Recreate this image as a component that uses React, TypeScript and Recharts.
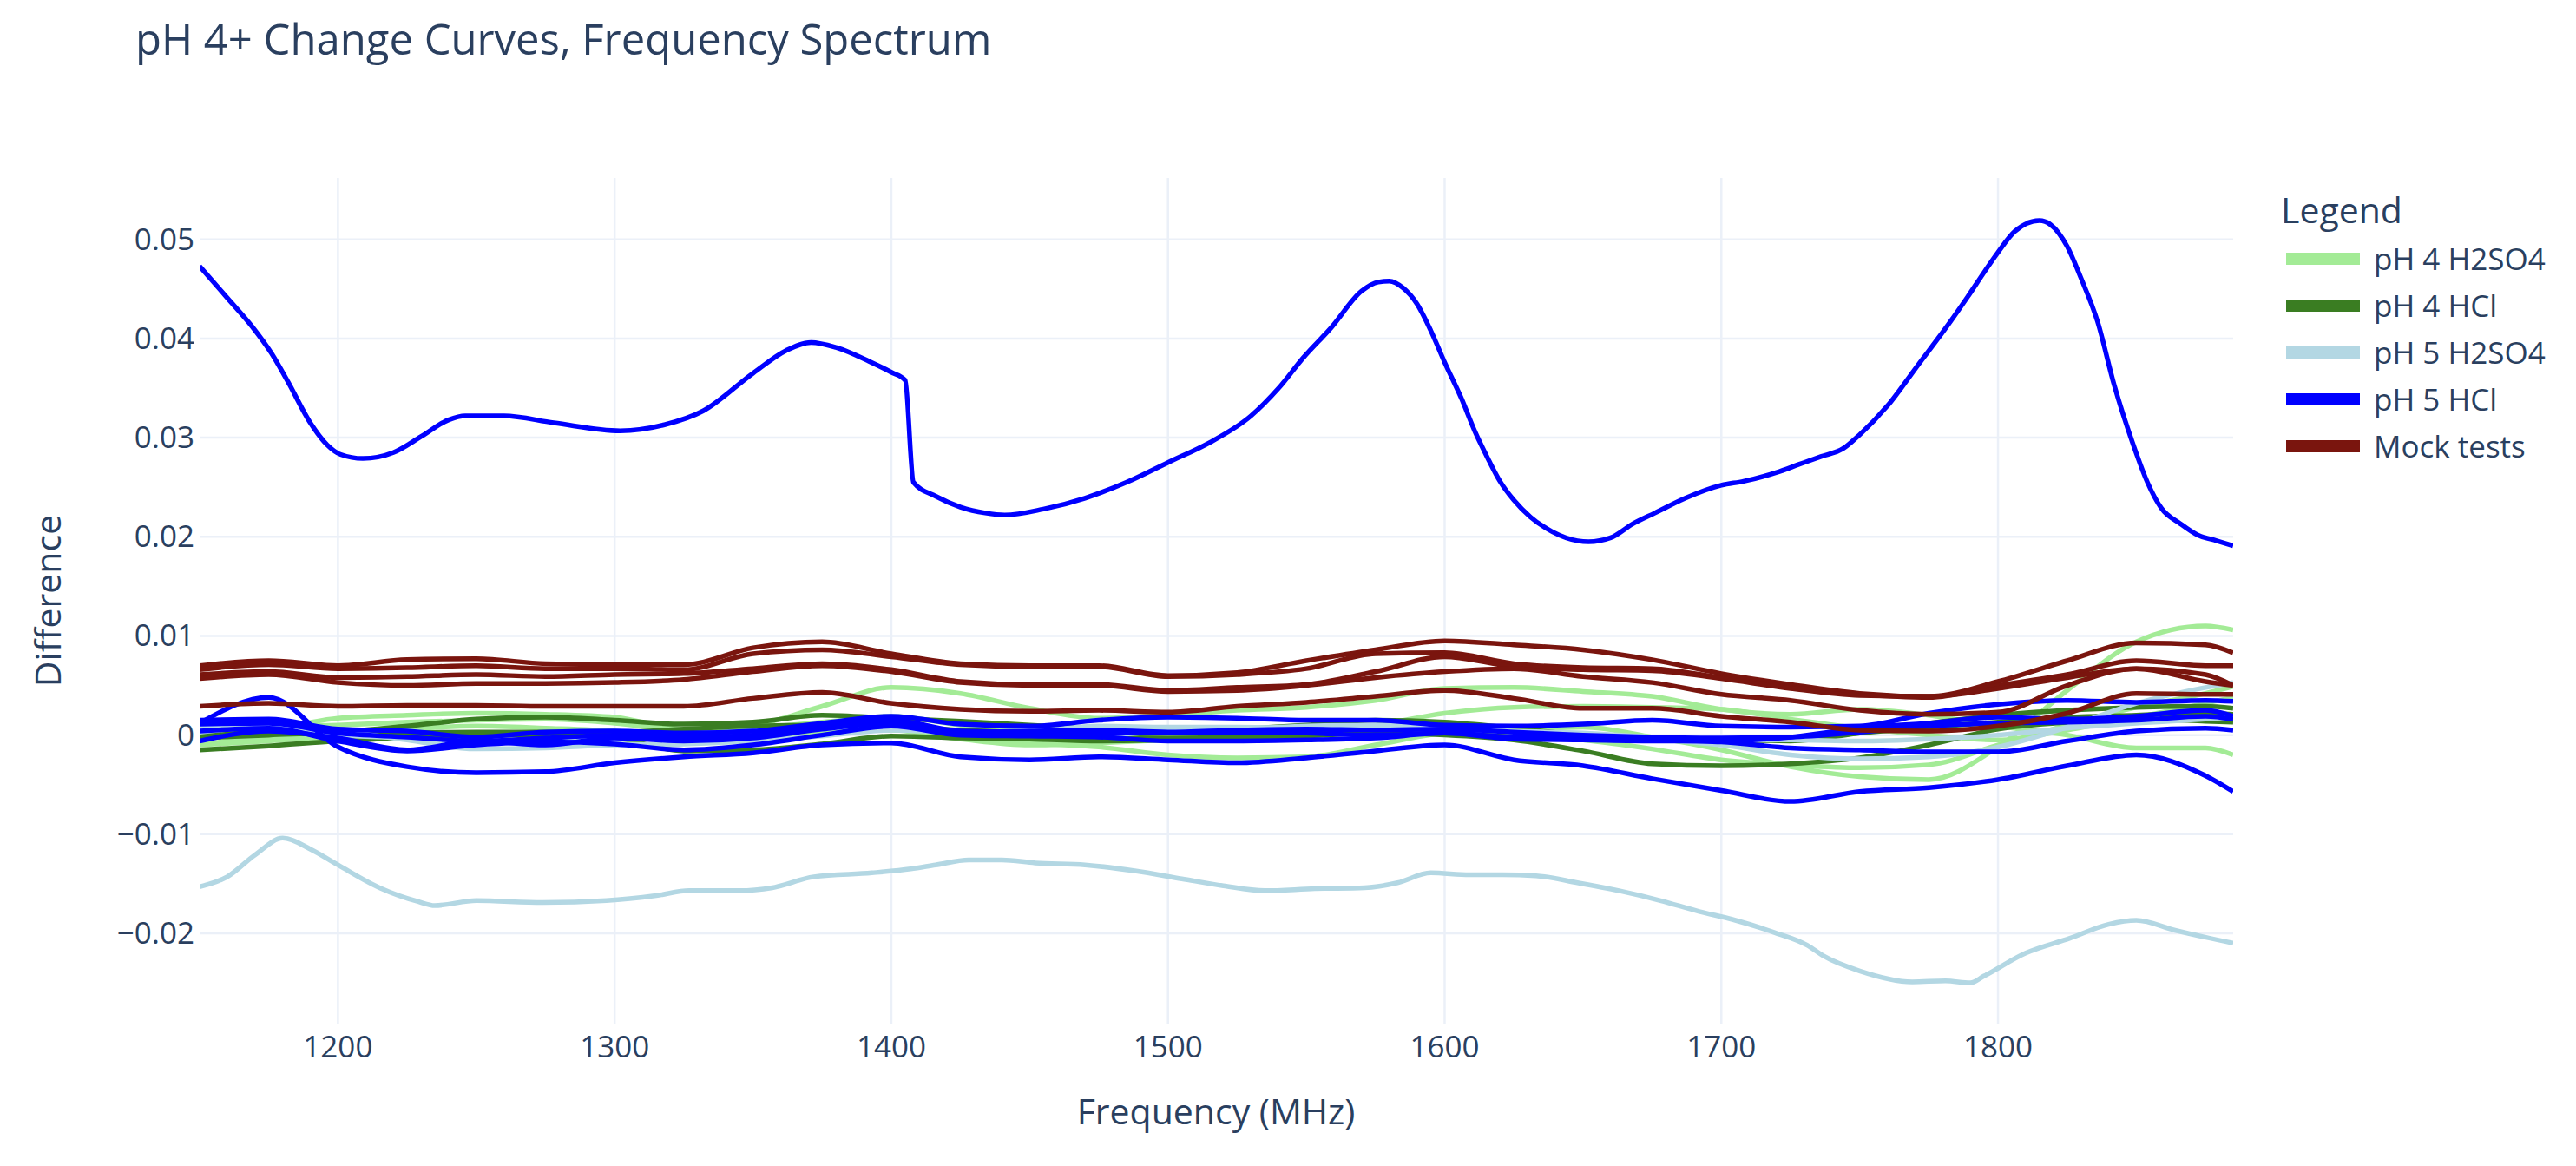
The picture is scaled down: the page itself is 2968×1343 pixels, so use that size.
import { CartesianGrid, Line, LineChart, XAxis, YAxis } from "recharts";

// shared frequency grid for the near-zero traces (MHz)
const freqGrid = [
  1150, 1175, 1200, 1225, 1250, 1275, 1300, 1325, 1350, 1375, 1400, 1425, 1450, 1475, 1500, 1525,
  1550, 1575, 1600, 1625, 1650, 1675, 1700, 1725, 1750, 1775, 1800, 1825, 1850, 1875, 1885,
];

// pH 4 H2SO4
const ph4SulfA = [0.0000, 0.0005, 0.0017, 0.0020, 0.0022, 0.0021, 0.0018, 0.0006, 0.0010, 0.0029, 0.0048, 0.0042, 0.0027, 0.0017, 0.0020, 0.0025, 0.0028, 0.0035, 0.0047, 0.0048, 0.0044, 0.0039, 0.0026, 0.0021, 0.0026, 0.0020, 0.0009, 0.0000, -0.0013, -0.0013, -0.0020];
const ph4SulfB = [-0.0009, -0.0003, 0.0000, 0.0006, 0.0009, 0.0007, 0.0004, -0.0003, 0.0000, 0.0004, 0.0006, -0.0002, -0.0008, -0.0012, -0.0020, -0.0023, -0.0022, -0.0010, 0.0002, 0.0005, 0.0008, -0.0002, -0.0015, -0.0032, -0.0042, -0.0045, -0.0012, 0.0045, 0.0094, 0.0110, 0.0106];
const ph4SulfC = [0.0005, 0.0008, 0.0010, 0.0013, 0.0015, 0.0016, 0.0012, 0.0005, 0.0007, 0.0013, 0.0019, 0.0010, 0.0003, 0.0000, -0.0004, -0.0002, 0.0003, 0.0010, 0.0022, 0.0028, 0.0029, 0.0028, 0.0026, 0.0016, 0.0007, 0.0000, -0.0005, 0.0005, 0.0018, 0.0032, 0.0038];
const ph4SulfD = [-0.0010, -0.0006, -0.0002, 0.0000, 0.0002, 0.0001, -0.0002, -0.0005, -0.0003, 0.0002, 0.0005, -0.0004, -0.0010, -0.0008, -0.0005, -0.0003, 0.0000, 0.0003, 0.0004, 0.0000, -0.0005, -0.0014, -0.0025, -0.0030, -0.0033, -0.0030, -0.0010, 0.0010, 0.0028, 0.0042, 0.0049];

// pH 4 HCl
const ph4HclA = [-0.0015, -0.0011, -0.0006, -0.0003, 0.0000, 0.0000, -0.0003, -0.0016, -0.0015, -0.0009, -0.0001, -0.0003, -0.0004, -0.0006, -0.0005, -0.0003, -0.0001, 0.0002, 0.0000, -0.0005, -0.0016, -0.0029, -0.0031, -0.0029, -0.0023, -0.0010, 0.0006, 0.0013, 0.0016, 0.0014, 0.0013];
const ph4HclB = [-0.0003, 0.0000, 0.0003, 0.0009, 0.0016, 0.0018, 0.0015, 0.0011, 0.0013, 0.0020, 0.0017, 0.0014, 0.0010, 0.0006, 0.0002, 0.0006, 0.0010, 0.0015, 0.0013, 0.0007, 0.0000, -0.0003, -0.0004, -0.0006, 0.0002, 0.0012, 0.0020, 0.0025, 0.0028, 0.0029, 0.0027];
const ph4HclC = [0.0000, 0.0003, 0.0000, 0.0002, 0.0003, 0.0003, 0.0003, 0.0006, 0.0009, 0.0010, 0.0009, 0.0005, 0.0002, -0.0002, -0.0003, -0.0002, 0.0001, 0.0004, 0.0005, 0.0002, -0.0003, -0.0004, -0.0006, -0.0004, 0.0002, 0.0008, 0.0013, 0.0018, 0.0020, 0.0022, 0.0021];

// pH 5 H2SO4 (near zero)
const ph5SulfA = [0.0008, 0.0013, 0.0005, -0.0005, -0.0014, -0.0013, -0.0010, -0.0009, -0.0006, -0.0001, 0.0005, 0.0003, 0.0004, 0.0009, 0.0008, 0.0008, 0.0007, 0.0006, 0.0006, 0.0003, 0.0000, -0.0004, -0.0010, -0.0020, -0.0024, -0.0022, -0.0012, 0.0008, 0.0032, 0.0048, 0.0053];
const ph5SulfB = [0.0003, 0.0008, 0.0000, -0.0003, -0.0008, -0.0006, -0.0005, -0.0003, 0.0000, 0.0006, 0.0012, 0.0002, 0.0000, 0.0000, 0.0004, 0.0006, 0.0009, 0.0010, 0.0008, 0.0004, 0.0002, -0.0002, -0.0005, -0.0005, -0.0006, -0.0004, 0.0000, 0.0007, 0.0012, 0.0016, 0.0018];

// pH 5 H2SO4, the low trace
const ph5SulfLowFreq = [1150, 1160, 1170, 1180, 1190, 1200, 1215, 1229, 1235, 1250, 1274, 1297, 1315, 1327, 1345, 1357, 1372, 1393, 1407, 1416, 1428, 1440, 1452, 1470, 1488, 1505, 1520, 1535, 1553, 1571, 1583, 1595, 1609, 1621, 1633, 1648, 1663, 1678, 1692, 1704, 1719, 1731, 1737, 1750, 1769, 1781, 1790, 1795, 1810, 1826, 1840, 1850, 1864, 1885];
const ph5SulfLow = [-0.0153, -0.0143, -0.0121, -0.0104, -0.0115, -0.0131, -0.0154, -0.0168, -0.0172, -0.0167, -0.0169, -0.0167, -0.0162, -0.0157, -0.0157, -0.0154, -0.0143, -0.0139, -0.0135, -0.0131, -0.0126, -0.0126, -0.0129, -0.0131, -0.0137, -0.0145, -0.0152, -0.0157, -0.0155, -0.0154, -0.0149, -0.0139, -0.0141, -0.0141, -0.0142, -0.0149, -0.0157, -0.0167, -0.0178, -0.0186, -0.0199, -0.0212, -0.0223, -0.0238, -0.0249, -0.0248, -0.025, -0.0243, -0.022, -0.0205, -0.0191, -0.0187, -0.0197, -0.021];

// pH 5 HCl (near zero)
const ph5HclLow = [0.0012, 0.0038, -0.0012, -0.0032, -0.0038, -0.0037, -0.0028, -0.0022, -0.0018, -0.0010, -0.0008, -0.0022, -0.0025, -0.0022, -0.0025, -0.0028, -0.0023, -0.0016, -0.0010, -0.0025, -0.0031, -0.0044, -0.0056, -0.0067, -0.0057, -0.0053, -0.0045, -0.0031, -0.0020, -0.0041, -0.0057];
const ph5HclA = [0.0015, 0.0016, 0.0006, 0.0004, -0.0002, 0.0003, 0.0004, 0.0002, 0.0004, 0.0012, 0.0019, 0.0011, 0.0009, 0.0015, 0.0018, 0.0017, 0.0015, 0.0015, 0.0010, 0.0009, 0.0011, 0.0015, 0.0009, 0.0008, 0.0009, 0.0022, 0.0031, 0.0035, 0.0033, 0.0035, 0.0034];
const ph5HclB = [0.0011, 0.0012, 0.0002, -0.0002, -0.0006, -0.0003, 0.0000, -0.0002, 0.0000, 0.0009, 0.0015, 0.0004, 0.0003, 0.0002, 0.0002, 0.0003, 0.0002, 0.0000, 0.0002, -0.0002, -0.0003, -0.0005, -0.0007, -0.0013, -0.0015, -0.0017, -0.0017, -0.0006, 0.0004, 0.0007, 0.0005];
const ph5HclC = [0.0004, 0.0007, -0.0006, -0.0016, -0.0010, -0.0007, -0.0009, -0.0015, -0.0010, 0.0000, 0.0009, 0.0000, -0.0001, -0.0002, -0.0006, -0.0006, -0.0005, -0.0003, 0.0002, -0.0004, -0.0005, -0.0006, -0.0006, -0.0002, 0.0007, 0.0012, 0.0018, 0.0016, 0.0019, 0.0025, 0.0019];
const ph5HclD = [-0.0006, 0.0004, -0.0003, -0.0015, -0.0006, -0.0010, -0.0003, -0.0006, -0.0003, 0.0006, 0.0012, 0.0003, 0.0004, 0.0005, 0.0003, 0.0005, 0.0006, 0.0005, 0.0006, 0.0003, 0.0000, -0.0002, -0.0003, -0.0002, 0.0003, 0.0009, 0.0012, 0.0013, 0.0015, 0.0019, 0.0016];

// pH 5 HCl, the large resonance trace
const ph5HclPeakFreq = [1150, 1160, 1169, 1176, 1182, 1190, 1196, 1201, 1209, 1220, 1230, 1240, 1246, 1260, 1278, 1302, 1318, 1332, 1350, 1362, 1371, 1380, 1392, 1400, 1405, 1408, 1416, 1425, 1434, 1441, 1455, 1470, 1485, 1500, 1515, 1530, 1540, 1549, 1559, 1570, 1576, 1580, 1585, 1590, 1595, 1600, 1606, 1611, 1616, 1620, 1625, 1631, 1639, 1648, 1652, 1660, 1668, 1676, 1687, 1700, 1708, 1720, 1728, 1736, 1744, 1750, 1760, 1771, 1782, 1789, 1795, 1800, 1806, 1815, 1819, 1825, 1830, 1836, 1842, 1849, 1854, 1859, 1866, 1872, 1879, 1885];
const ph5HclPeak = [0.0473, 0.0441, 0.0412, 0.0385, 0.0356, 0.0315, 0.0293, 0.0283, 0.0279, 0.0285, 0.0301, 0.0318, 0.0322, 0.0322, 0.0315, 0.0307, 0.0313, 0.0327, 0.0365, 0.0388, 0.0396, 0.0391, 0.0377, 0.0366, 0.0358, 0.0255, 0.0241, 0.023, 0.0224, 0.0222, 0.0228, 0.0239, 0.0255, 0.0275, 0.0295, 0.0322, 0.035, 0.0381, 0.0411, 0.0448, 0.0457, 0.0458, 0.0451, 0.0435, 0.0408, 0.0376, 0.034, 0.0306, 0.0277, 0.0256, 0.0237, 0.022, 0.0205, 0.0196, 0.0195, 0.0199, 0.0213, 0.0224, 0.0239, 0.0252, 0.0256, 0.0265, 0.0273, 0.0281, 0.0289, 0.0303, 0.0332, 0.0373, 0.0414, 0.0442, 0.0467, 0.0487, 0.0508, 0.0519, 0.0515, 0.0493, 0.0461, 0.0417, 0.0353, 0.0292, 0.0255, 0.0229, 0.0213, 0.0202, 0.0196, 0.0191];

// Mock tests
const mockA = [0.0070, 0.0075, 0.0070, 0.0076, 0.0077, 0.0072, 0.0071, 0.0071, 0.0088, 0.0094, 0.0082, 0.0072, 0.0070, 0.0070, 0.0060, 0.0063, 0.0075, 0.0086, 0.0095, 0.0091, 0.0086, 0.0076, 0.0062, 0.0051, 0.0042, 0.0039, 0.0054, 0.0075, 0.0093, 0.0091, 0.0083];
const mockB = [0.0066, 0.0071, 0.0067, 0.0068, 0.0070, 0.0067, 0.0067, 0.0066, 0.0082, 0.0086, 0.0079, 0.0071, 0.0069, 0.0069, 0.0059, 0.0061, 0.0067, 0.0082, 0.0083, 0.0072, 0.0068, 0.0067, 0.0058, 0.0048, 0.0041, 0.0038, 0.0050, 0.0061, 0.0075, 0.0070, 0.0070];
const mockC = [0.0061, 0.0064, 0.0058, 0.0059, 0.0061, 0.0059, 0.0061, 0.0062, 0.0067, 0.0072, 0.0066, 0.0054, 0.0051, 0.0051, 0.0045, 0.0048, 0.0051, 0.0064, 0.0079, 0.0069, 0.0066, 0.0065, 0.0057, 0.0047, 0.0040, 0.0039, 0.0047, 0.0058, 0.0067, 0.0061, 0.0050];
const mockD = [0.0057, 0.0061, 0.0053, 0.0050, 0.0052, 0.0052, 0.0053, 0.0056, 0.0064, 0.0070, 0.0064, 0.0053, 0.0050, 0.0050, 0.0044, 0.0045, 0.0050, 0.0058, 0.0064, 0.0067, 0.0059, 0.0053, 0.0041, 0.0035, 0.0025, 0.0021, 0.0023, 0.0050, 0.0067, 0.0054, 0.0050];
const mockE = [0.0029, 0.0032, 0.0029, 0.0030, 0.0030, 0.0029, 0.0029, 0.0029, 0.0037, 0.0043, 0.0032, 0.0026, 0.0024, 0.0025, 0.0023, 0.0029, 0.0033, 0.0039, 0.0045, 0.0037, 0.0027, 0.0027, 0.0019, 0.0013, 0.0005, 0.0004, 0.0009, 0.0022, 0.0042, 0.0041, 0.0041];

const xTicks = [1200, 1300, 1400, 1500, 1600, 1700, 1800];
const yTicks = [-0.02, -0.01, 0, 0.01, 0.02, 0.03, 0.04, 0.05];
const xDomain = [1150, 1885];
const yDomain = [-0.0292, 0.0562];

const INK = "#2a3f5f";
const FONT = "'Open Sans', Verdana, Arial, sans-serif";

const toPoints = (freqs: number[], vals: number[]) => freqs.map((f, i) => ({ f, v: vals[i] }));

const groups = [
  { name: "pH 4 H2SO4", color: "#a3eb96", traces: [ph4SulfA, ph4SulfB, ph4SulfC, ph4SulfD].map((v) => toPoints(freqGrid, v)) },
  { name: "pH 4 HCl", color: "#3a7d22", traces: [ph4HclA, ph4HclB, ph4HclC].map((v) => toPoints(freqGrid, v)) },
  {
    name: "pH 5 H2SO4",
    color: "#b3d7e3",
    traces: [toPoints(ph5SulfLowFreq, ph5SulfLow), toPoints(freqGrid, ph5SulfA), toPoints(freqGrid, ph5SulfB)],
  },
  {
    name: "pH 5 HCl",
    color: "#0000ff",
    traces: [
      toPoints(ph5HclPeakFreq, ph5HclPeak),
      ...[ph5HclLow, ph5HclA, ph5HclB, ph5HclC, ph5HclD].map((v) => toPoints(freqGrid, v)),
    ],
  },
  { name: "Mock tests", color: "#7a150e", traces: [mockA, mockB, mockC, mockD, mockE].map((v) => toPoints(freqGrid, v)) },
];

const fmtY = (v: number) => (v === 0 ? "0" : (v < 0 ? "\u2212" : "") + Math.abs(v).toFixed(2));

function YTick({ y, payload }: any) {
  return (
    <text x={224} y={y + 12} textAnchor="end" fontSize={35} fill={INK} fontFamily={FONT}>
      {fmtY(payload.value)}
    </text>
  );
}

function XTick({ x, payload }: any) {
  return (
    <text x={x} y={1218} textAnchor="middle" fontSize={35} fill={INK} fontFamily={FONT}>
      {payload.value}
    </text>
  );
}

// grid only at the tick values (no frame around the plot)
const gridY = ({ offset }: any) =>
  yTicks.map((t) => offset.top + ((yDomain[1] - t) / (yDomain[1] - yDomain[0])) * offset.height);
const gridX = ({ offset }: any) =>
  xTicks.map((t) => offset.left + ((t - xDomain[0]) / (xDomain[1] - xDomain[0])) * offset.width);

export default function App() {
  return (
    <div style={{ position: "fixed", left: 0, top: 0, width: 2968, height: 1343, background: "#fff" }}>
      <LineChart width={2968} height={1343} margin={{ top: 205, right: 395, bottom: 83, left: 130 }}>
        <CartesianGrid
          stroke="#ebf0f8"
          strokeWidth={2.5}
          horizontalCoordinatesGenerator={gridY}
          verticalCoordinatesGenerator={gridX}
        />
        <XAxis
          dataKey="f"
          type="number"
          domain={xDomain}
          ticks={xTicks}
          allowDataOverflow
          axisLine={false}
          tickLine={false}
          height={80}
          tick={<XTick />}
        />
        <YAxis
          type="number"
          domain={yDomain}
          ticks={yTicks}
          allowDataOverflow
          axisLine={false}
          tickLine={false}
          width={100}
          tick={<YTick />}
        />
        {groups.map((g) =>
          g.traces.map((pts, i) => (
            <Line
              key={g.name + i}
              data={pts}
              dataKey="v"
              type="monotone"
              stroke={g.color}
              strokeWidth={5.5}
              dot={false}
              activeDot={false}
              isAnimationActive={false}
            />
          ))
        )}
      </LineChart>
      <svg width={2968} height={1343} style={{ position: "absolute", left: 0, top: 0, pointerEvents: "none" }}>
        <text x={156} y={63} fontSize={49} fill={INK} fontFamily={FONT}>
          pH 4+ Change Curves, Frequency Spectrum
        </text>
        <text x={1401} y={1295} fontSize={41} fill={INK} fontFamily={FONT} textAnchor="middle">
          Frequency (MHz)
        </text>
        <text
          x={70}
          y={692}
          fontSize={41}
          fill={INK}
          fontFamily={FONT}
          textAnchor="middle"
          transform="rotate(-90 70 692)"
        >
          Difference
        </text>
        <text x={2628} y={257} fontSize={41} fill={INK} fontFamily={FONT}>
          Legend
        </text>
        {groups.map((g, i) => {
          const cy = 298 + i * 54;
          return (
            <g key={g.name}>
              <rect x={2634} y={cy - 7} width={85} height={14} fill={g.color} />
              <text x={2735} y={cy + 13} fontSize={35} fill={INK} fontFamily={FONT}>
                {g.name}
              </text>
            </g>
          );
        })}
      </svg>
    </div>
  );
}
